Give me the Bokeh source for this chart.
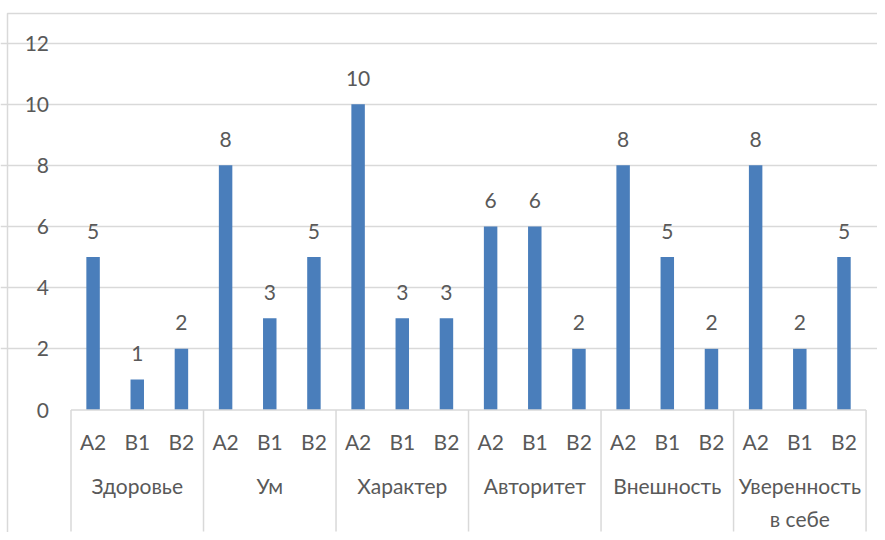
from bokeh.plotting import figure
from bokeh.models import Range1d, ColumnDataSource, Grid, FixedTicker
from bokeh.core.properties import value
from bokeh.embed import file_html
from bokeh.resources import INLINE

# ---- data ----
groups = ["Здоровье", "Ум", "Характер", "Авторитет", "Внешность", "Уверенность\nв себе"]
levels = ["A2", "B1", "B2"]
counts = [5, 1, 2, 8, 3, 5, 10, 3, 3, 6, 6, 2, 8, 5, 2, 8, 2, 5]
y_ticks = [0, 2, 4, 6, 8, 10, 12]

# ---- layout constants (pixels) ----
W, H = 877, 532
LEFT_PX = 70.5      # canvas x of first slot edge
SLOT_PX = 44.17     # pixel width of one category slot
ZERO_PX = 409.5     # canvas y of value 0
UNIT_PX = 30.58     # pixels per value unit
FS = "21px"

FONT = value("Lato")
TXT = "#595959"
GRID = "#d9d9d9"
BAR = "#4a7ebb"

n_levels = len(levels)
n = len(groups) * n_levels

x_start = -LEFT_PX / SLOT_PX
x_end = (W - LEFT_PX) / SLOT_PX
y_end = ZERO_PX / UNIT_PX
y_start = -(H - ZERO_PX) / UNIT_PX

p = figure(width=W, height=H, output_backend="svg", toolbar_location=None,
           x_range=Range1d(x_start, x_end), y_range=Range1d(y_start, y_end),
           x_axis_type=None, y_axis_type=None, min_border=0,
           outline_line_color=None, background_fill_color="white",
           border_fill_color="white")
p.grid.visible = False

# horizontal gridlines
grid = Grid(dimension=1, ticker=FixedTicker(ticks=y_ticks[1:]), bounds=(0, n),
            grid_line_color=GRID, grid_line_width=1.5)
p.add_layout(grid)

xs = [i + 0.5 for i in range(n)]
src = ColumnDataSource(dict(x=xs, top=counts, lab=[str(c) for c in counts],
                            lvl=[levels[i % n_levels] for i in range(n)]))

p.vbar(x="x", top="top", bottom=0, width=0.305, source=src,
       fill_color=BAR, line_color=None)

# data labels
p.text(x="x", y="top", text="lab", source=src, text_align="center",
       text_baseline="middle", y_offset=-26, text_font=FONT,
       text_font_size=FS, text_color=TXT)

# x axis line
p.segment(x0=[0], y0=[0], x1=[n], y1=[0], line_color=GRID, line_width=1.5)

# group separators
sep_y1 = -(531 - ZERO_PX) / UNIT_PX
sep_x = [g * n_levels for g in range(len(groups) + 1)]
p.segment(x0=sep_x, y0=[0] * len(sep_x), x1=sep_x, y1=[sep_y1] * len(sep_x),
          line_color=GRID, line_width=1.5)

# level labels
p.text(x="x", y=0, text="lvl", source=src, text_align="center",
       text_baseline="middle", y_offset=31.5, text_font=FONT,
       text_font_size=FS, text_color=TXT)

# group labels
gx = [g * n_levels + n_levels / 2 for g in range(len(groups))]
p.text(x=gx, y=[0] * len(gx), text=groups, text_align="center",
       text_baseline="top", y_offset=63, text_font=FONT,
       text_font_size=FS, text_color=TXT, text_line_height=1.3)

# y tick labels
p.text(x=[0] * len(y_ticks), y=y_ticks, text=[str(t) for t in y_ticks],
       text_align="right", text_baseline="middle", x_offset=-22,
       text_font=FONT, text_font_size=FS, text_color=TXT)

# chart border (top and left)
top_y = (ZERO_PX - 13) / UNIT_PX
left_x = x_start + 7 / SLOT_PX
p.line(x=[left_x, left_x, x_end], y=[y_start, top_y, top_y],
       line_color=GRID, line_width=1.5)

open("out.html", "w").write(file_html(p, INLINE))
